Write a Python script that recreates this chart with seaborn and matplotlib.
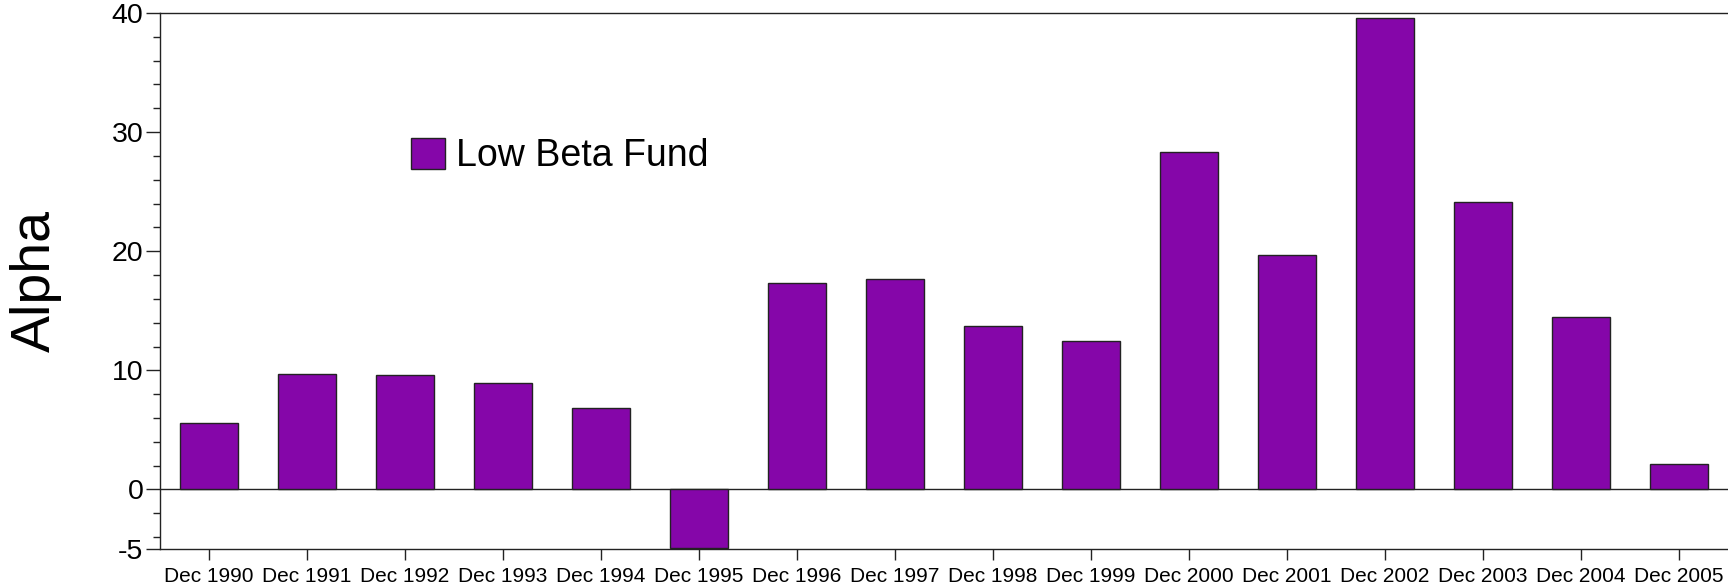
import matplotlib
matplotlib.use("Agg")
import matplotlib.pyplot as plt
import numpy as np
import pandas as pd
import seaborn as sns
from matplotlib.ticker import FixedLocator

years = ["Dec 1990", "Dec 1991", "Dec 1992", "Dec 1993", "Dec 1994", "Dec 1995",
         "Dec 1996", "Dec 1997", "Dec 1998", "Dec 1999", "Dec 2000", "Dec 2001",
         "Dec 2002", "Dec 2003", "Dec 2004", "Dec 2005"]
alpha = [5.6, 9.7, 9.65, 8.9, 6.8, -4.95,
         17.35, 17.7, 13.7, 12.45, 28.35, 19.65,
         39.6, 24.1, 14.5, 2.1]
series_name = "Low Beta Fund"
bar_color = "#8506A9"

sns.set_style("ticks")
plt.rcParams["font.family"] = ["Liberation Sans", "DejaVu Sans"]
plt.rcParams["axes.unicode_minus"] = False
plt.rcParams["text.color"] = "black"

df = pd.DataFrame({"period": years, "alpha": alpha})

fig = plt.figure(figsize=(17.28, 5.85), dpi=100)
ax = fig.add_axes([160 / 1728, 36 / 585, 1568 / 1728, 536 / 585])

sns.barplot(data=df, x="period", y="alpha", color=bar_color, saturation=1,
            width=0.6, edgecolor="#222222", linewidth=1.0, label=series_name, ax=ax)

ax.axhline(0, color="#222222", linewidth=1.0, zorder=0.5)
ax.set_xlim(-0.5, 15.5)
ax.set_ylim(-5, 40)
ax.set_yticks([-5, 0, 10, 20, 30, 40])
ax.yaxis.set_minor_locator(FixedLocator([v for v in range(-4, 40, 2) if v % 10 != 0]))
ax.tick_params(axis="y", which="major", labelsize=20.5, length=10, width=1, pad=2, colors="#222222", labelcolor="black")
ax.tick_params(axis="y", which="minor", length=5, width=1, colors="#222222")
ax.tick_params(axis="x", labelsize=15, length=8, width=1, pad=5, colors="#222222", labelcolor="black")

ax.set_xlabel("")
ax.set_ylabel("Alpha", fontsize=40, labelpad=36, color="black")
ax.spines["right"].set_visible(False)
for s in ["left", "top", "bottom"]:
    ax.spines[s].set_linewidth(1.0)
    ax.spines[s].set_color("#222222")

leg = ax.legend(loc="upper left", bbox_to_anchor=(392 / 1728, 1 - 119 / 585),
                bbox_transform=fig.transFigure, frameon=False, fontsize=27,
                handlelength=0.92, handleheight=0.92, handletextpad=0.3, borderpad=0)
for t in leg.get_texts():
    t.set_color("black")

fig.savefig("out.png", dpi=100)
